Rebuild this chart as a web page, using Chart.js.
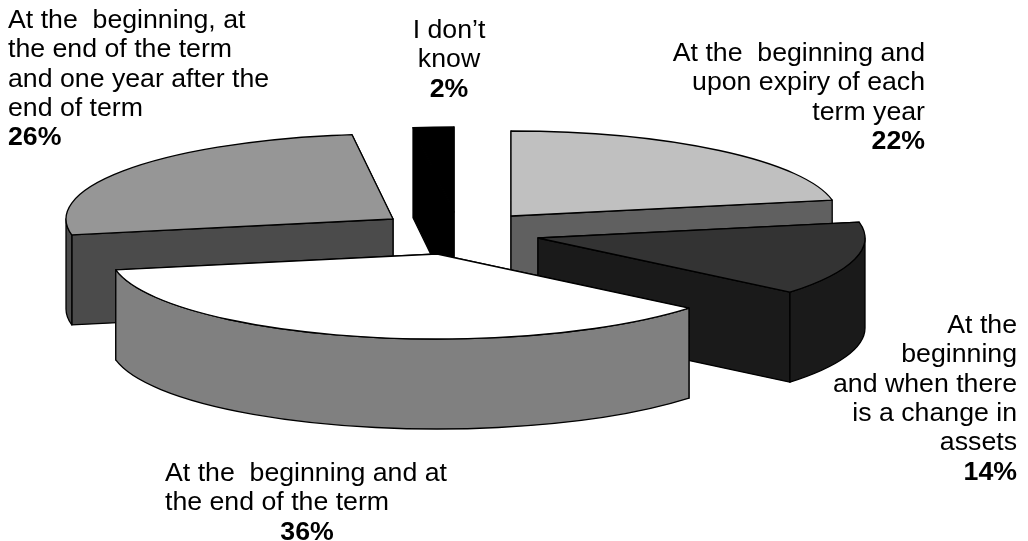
<!DOCTYPE html>
<html>
<head>
<meta charset="utf-8">
<title>Pie chart</title>
<script src="https://cdn.jsdelivr.net/npm/chart.js@4"></script>
<style>
  html, body { margin: 0; padding: 0; background: #fff; }
  #wrap { width: 1028px; height: 541px; }
</style>
</head>
<body>
<div id="wrap"><canvas id="chart" width="1028" height="541"></canvas></div>
<script>
const categories = [
  ["At the  beginning and", "upon expiry of each", "term year"],
  ["At the", "beginning", "and when there", "is a change in", "assets"],
  ["At the  beginning and at", "the end of the term"],
  ["At the  beginning, at", "the end of the term", "and one year after the", "end of term"],
  ["I don’t", "know"]
];
const shares = [22, 14, 36, 26, 2];

const topColors = ["#c0c0c0", "#333333", "#ffffff", "#969696", "#000000"];
const sideColors = ["#606060", "#1a1a1a", "#808080", "#4b4b4b", "#000000"];

// where each exploded slice has its tip, in page pixels
const tipX = [511, 538, 437, 393, 454];
const tipY = [216, 238, 254, 219, 212];
const drawOrder = [0, 3, 4, 1, 2];

const RX = 327, RY = 85, DEPTH = 90;

// label blocks: x of the text lines, first baseline, x of the percentage
const labelAlign = ["right", "right", "left", "left", "center"];
const labelX = [925, 1017, 165, 8, 449];
const labelY = [61, 333, 481, 28, 38];
const percentX = [925, 1017, 307, 8, 449];
const percentAlign = ["right", "right", "center", "left", "center"];
const LINE = 29.3;
const FONT_SIZE = 26.7;

function rimPoint(i, t) {
  return [tipX[i] + RX * Math.cos(t), tipY[i] + RY * Math.sin(t)];
}

function drawSideFace(ctx, i, t) {
  const p = rimPoint(i, t);
  ctx.beginPath();
  ctx.moveTo(tipX[i], tipY[i]);
  ctx.lineTo(p[0], p[1]);
  ctx.lineTo(p[0], p[1] + DEPTH);
  ctx.lineTo(tipX[i], tipY[i] + DEPTH);
  ctx.closePath();
  ctx.fill();
  ctx.stroke();
}

// outer wall, only the part of the rim that faces the viewer
function drawWall(ctx, i, start, end) {
  const from = Math.max(start, 0), to = Math.min(end, Math.PI);
  if (to <= from) return;
  ctx.beginPath();
  ctx.ellipse(tipX[i], tipY[i], RX, RY, 0, from, to);
  ctx.ellipse(tipX[i], tipY[i] + DEPTH, RX, RY, 0, to, from, true);
  ctx.closePath();
  ctx.fill();
  ctx.stroke();
}

const pie3d = {
  id: "pie3d",
  beforeDatasetDraw(chart) {
    const ctx = chart.ctx;
    const arcs = chart.getDatasetMeta(0).data;
    ctx.save();
    ctx.lineWidth = 1.3;
    ctx.strokeStyle = "#000";
    ctx.lineJoin = "round";
    drawOrder.forEach((i) => {
      const el = arcs[i];
      const start = el.startAngle, end = el.endAngle;

      ctx.fillStyle = sideColors[i];
      const faces = [start, end].sort((a, b) => rimPoint(i, a)[1] - rimPoint(i, b)[1]);
      faces.forEach((t) => drawSideFace(ctx, i, t));
      drawWall(ctx, i, start, end);

      // top surface is the library's own arc, squashed into an ellipse
      ctx.save();
      ctx.translate(tipX[i], tipY[i]);
      ctx.scale(RX / el.outerRadius, RY / el.outerRadius);
      ctx.translate(-el.x, -el.y);
      el.draw(ctx, chart.chartArea);
      ctx.restore();

      ctx.beginPath();
      ctx.moveTo(tipX[i], tipY[i]);
      ctx.ellipse(tipX[i], tipY[i], RX, RY, 0, start, end);
      ctx.closePath();
      ctx.stroke();
    });
    ctx.restore();
    return false;
  },
  afterDraw(chart) {
    const ctx = chart.ctx;
    ctx.save();
    ctx.fillStyle = "#000";
    ctx.textBaseline = "alphabetic";
    categories.forEach((lines, i) => {
      ctx.font = FONT_SIZE + 'px "Liberation Sans", Arial, sans-serif';
      ctx.textAlign = labelAlign[i];
      lines.forEach((line, n) => ctx.fillText(line, labelX[i], labelY[i] + n * LINE));
      ctx.font = "bold " + FONT_SIZE + 'px "Liberation Sans", Arial, sans-serif';
      ctx.textAlign = percentAlign[i];
      ctx.fillText(shares[i] + "%", percentX[i], labelY[i] + lines.length * LINE);
    });
    ctx.restore();
  }
};

new Chart(document.getElementById("chart"), {
  type: "pie",
  data: {
    labels: categories.map((c) => c.join(" ")),
    datasets: [{ data: shares, backgroundColor: topColors, borderWidth: 0 }]
  },
  options: {
    responsive: false,
    animation: false,
    plugins: { legend: { display: false }, tooltip: { enabled: false } }
  },
  plugins: [pie3d]
});
</script>
</body>
</html>
